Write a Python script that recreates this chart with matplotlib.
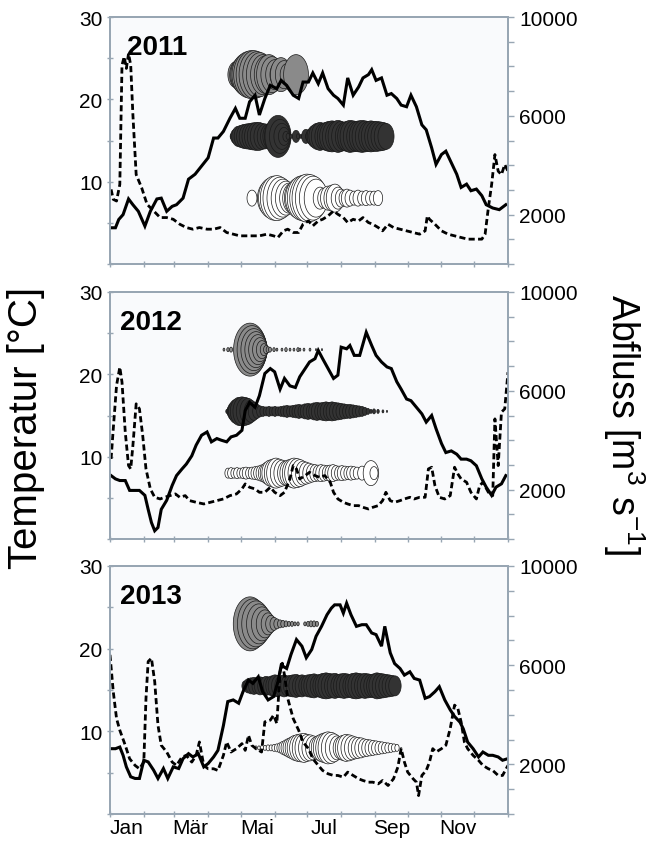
import numpy as np
import matplotlib
matplotlib.use("Agg")
import matplotlib.pyplot as plt
from matplotlib.path import Path
from matplotlib.ticker import FixedLocator, NullFormatter, FixedFormatter

plt.rcParams['font.family'] = ['Liberation Sans', 'DejaVu Sans']
plt.rcParams['mathtext.fontset'] = 'custom'
plt.rcParams['mathtext.rm'] = 'Liberation Sans'

# ---------------- data ----------------
years = ['2011', '2012', '2013']

# 2011
t11_day = [2,5,8,12,17,21,26,32,37,43,47,52,57,61,67,72,78,84,90,95,99,104,110,115,119,124,128,133,137,142,
           147,153,157,162,168,173,177,182,186,191,195,200,205,209,214,218,223,228,232,237,240,244,249,254,258,
           263,267,272,276,281,286,290,295,299,304,308,313,318,322,327,331,336,341,345,351,357,363]
t11_val = [4.4,4.4,5.4,6.0,7.9,7.2,6.4,4.6,6.4,7.9,8.0,6.4,7.0,7.2,8.0,10.3,10.9,11.9,12.9,15.3,
           15.3,16.1,17.7,18.9,17.7,17.7,19.7,20.5,18.1,20.1,21.7,21.3,22.3,21.7,20.5,20.1,22.1,22.1,23.2,21.9,
           23.2,21.3,20.5,20.1,19.3,22.6,20.5,21.5,22.6,23.0,23.6,22.3,22.6,20.5,20.7,20.1,19.3,19.1,20.5,19.1,
           16.9,16.3,14.1,12.1,13.3,13.7,12.3,10.9,9.3,9.7,8.9,9.1,8.3,7.2,6.8,6.6,7.2]
q11_day = [1,3,6,9,11,13,15,17,19,21,24,29,34,40,46,52,58,64,70,76,82,89,95,101,107,113,119,125,131,137,
           144,150,154,159,163,168,173,177,182,186,191,195,200,205,209,214,218,223,228,232,237,241,246,250,255,
           260,266,272,278,284,289,291,293,298,304,310,316,322,328,334,341,344,347,350,353,356,359,362,365]
q11_val = [3020,2617,2550,3220,8050,8390,7918,8520,8050,6040,3620,3090,2415,2150,1880,1880,1810,1610,1476,1409,
           1476,1409,1409,1476,1275,1208,1140,1140,1140,1140,1208,1140,1073,1342,1409,1275,1275,1610,1745,1543,
           1745,1810,1946,2150,2013,1880,1678,1810,1745,1880,1678,1610,1476,1342,1610,1476,1409,1342,1275,1208,
           1342,1946,1810,1610,1342,1208,1140,1073,1006,1006,1006,1208,2281,3220,4430,3758,3620,4026,3758]

# 2012
t12_day = [1,5,9,14,18,23,27,32,35,38,41,44,47,52,57,61,66,70,75,79,84,89,93,98,102,107,111,116,121,124,
           128,133,137,142,147,151,156,160,165,170,174,179,183,188,191,195,200,205,209,212,217,220,224,229,235,
           240,244,249,254,258,263,267,272,276,281,286,290,295,299,304,308,313,318,322,327,331,336,341,345,350,
           354,359,363]
t12_val = [7.7,7.3,7.1,7.1,5.9,5.9,5.9,5.3,3.6,2.0,1.0,1.4,3.6,4.7,6.5,7.7,8.5,9.1,10.1,11.4,
           12.6,13.0,11.8,12.2,12.0,11.8,12.4,12.6,13.2,15.6,16.6,16.0,17.4,20.1,20.7,20.3,18.2,19.5,18.6,18.4,
           19.7,20.7,21.5,21.9,22.9,21.9,20.7,19.5,19.9,23.3,23.1,23.5,22.3,22.3,25.1,23.5,22.3,21.5,20.9,
           20.7,19.1,18.2,17.0,16.8,16.0,15.2,14.2,15.0,13.4,11.6,10.5,10.7,10.3,9.7,9.7,9.5,8.9,7.3,6.3,
           5.3,6.3,6.7,7.7]
q12_day = [1,3,6,9,11,14,17,19,21,24,27,30,33,37,41,46,50,55,60,64,69,73,79,86,92,98,104,110,116,121,
           124,128,133,137,142,147,151,156,160,165,168,171,174,179,183,188,192,197,202,205,209,214,218,223,228,
           232,237,241,246,250,253,257,261,266,270,275,279,284,289,292,295,298,302,307,312,316,319,322,327,331,
           336,339,342,347,351,353,356,359,362,365]
q12_val = [3242,4458,6215,6958,6350,4323,2972,2837,3783,5472,5269,4188,2837,2027,1689,1621,1689,1756,1824,1689,
           1756,1554,1486,1419,1486,1554,1621,1756,1824,2027,2229,2094,2027,1891,1891,2094,1891,1756,1891,2432,
           2972,2837,2432,2567,2702,2567,2499,2567,2297,1891,1621,1486,1419,1351,1351,1283,1216,1283,1351,1554,
           1891,1554,1486,1554,1621,1689,1621,1689,1689,2837,2905,2162,1689,1621,1756,2905,2634,2432,2297,1891,
           1621,2162,2297,1891,1756,4863,2972,5134,5269,6755]

# 2013
t13_day = [1,5,9,12,15,19,23,27,31,35,40,44,49,53,58,63,67,72,76,81,86,90,95,99,104,108,113,118,122,127,
           131,136,140,145,150,154,157,162,166,171,176,180,185,189,194,199,203,206,211,214,217,221,226,231,235,
           240,244,249,252,257,261,266,270,275,279,284,289,293,298,302,307,312,316,321,324,328,333,338,342,347,
           351,356,360,365]
t13_val = [7.9,7.9,8.1,7.1,5.7,4.5,4.3,4.3,6.5,6.3,5.3,4.3,5.5,4.3,5.7,5.5,6.7,7.3,6.9,7.3,
           5.7,6.1,6.9,7.7,10.7,13.6,13.8,13.4,14.8,16.2,15.8,16.6,14.8,13.8,14.2,16.0,18.0,17.6,19.3,21.1,
           20.3,18.9,19.9,21.5,22.7,24.1,24.9,25.3,25.3,24.3,25.5,24.1,22.7,22.9,22.9,21.9,21.7,20.3,22.7,19.5,
           18.2,17.6,16.8,17.2,16.4,16.2,14.0,14.2,14.8,15.4,13.8,12.6,11.8,11.1,10.3,8.7,7.9,6.9,7.5,7.1,
           7.1,6.9,6.5,6.7]
q13_day = [0,3,6,9,14,18,23,27,31,33,35,38,41,44,47,52,57,61,66,70,75,79,82,86,90,95,99,104,107,111,
           116,121,124,127,130,134,139,142,147,150,153,156,158,160,163,168,173,177,182,186,191,195,200,205,209,
           214,218,223,228,232,237,241,246,250,255,260,264,267,270,273,278,281,283,286,290,293,296,299,304,308,
           312,316,319,322,325,328,333,338,342,347,351,356,360,365]
q13_val = [6417,4931,3850,3378,2770,2229,1959,1824,2094,4661,6147,6282,5336,3580,2770,2499,2094,1959,2297,2364,
           2094,2364,2905,1959,1824,1824,1756,2364,2905,2499,2634,2837,2567,3175,2770,2634,2499,3715,3783,3985,
           3648,5742,6080,5607,4661,3850,3378,2905,2634,2229,1959,1756,1621,1554,1554,1486,1689,1554,1419,1351,
           1283,1283,1216,1351,1148,1419,1891,2634,2094,1689,1419,1283,743,1554,1756,2094,2634,2499,2634,2770,
           3445,4391,4256,3715,2905,2634,2364,2162,1959,1824,1756,1554,1554,1959]

# bubble rows (day of year, bubble size)
g11_day = [115.5,118.3,121.0,123.8,126.5,129.3,132.0,134.8,137.6,140.3,143.1,145.8,148.6,151.3,154.1,156.8,
           159.6,162.3,170.6]
g11_size = [26,30,36,42,46,48,48,46,44,40,38,40,36,30,26,34,28,22,40]
d11_day = [111.9,114.6,117.4,120.1,122.9,125.6,128.4,131.1,133.9,136.6,139.4,142.1,144.9,147.6,151.3,154.1,
           155.9,157.7,159.6,161.4,163.2,166.0,168.7,170.6,172.4,175.1,177.9,179.7,181.6,184.3,187.1,189.8,
           192.6,195.3,198.1,200.8,203.6,206.3,209.1,211.8,214.6,217.3,220.1,222.8,225.6,228.3,231.1,233.8,
           236.6,239.3,242.1,244.8,247.6,250.3,253.1]
d11_size = [6,14,20,22,24,25,26,27,28,28,26,25,24,26,34,42,34,26,18,10,6,4,5,12,5,4,6,14,8,16,22,26,28,26,
            28,30,31,30,32,30,28,30,32,31,30,31,32,31,30,31,30,30,29,28,26]
w11_day = [130.2,139.4,142.1,144.9,147.6,150.4,153.1,155.9,158.6,161.4,164.1,166.9,169.6,172.4,175.1,177.9,
           180.6,183.4,186.2,188.9,192.6,196.2,199.9,203.6,206.3,209.1,211.8,214.6,217.3,220.1,223.7,227.4,
           231.1,234.8,238.4,242.1,245.8]
w11_size = [16,14,18,34,40,44,45,42,38,34,30,30,34,40,44,46,48,47,44,38,22,20,24,26,28,22,18,16,18,16,14,16,
            14,15,14,14,15]

g12_day = [104.5,108.2,111.0,128.4,130.2,132.0,133.9,135.7,137.6,139.4,141.2,143.1,144.9,146.7,150.4,153.1,
           157.7,161.4,165.1,168.7,172.4,174.2,177.9,183.4,188.9,194.4]
g12_size = [3,4,5,53,48,42,36,30,24,18,12,8,6,5,4,3,3,4,3,3,4,3,3,3,2,2]
d12_day = [107.3,110.0,112.8,115.5,118.3,121.0,123.8,126.5,129.3,132.0,134.8,137.6,140.3,143.1,145.8,148.6,
           151.3,154.1,156.8,159.6,162.3,165.1,167.8,170.6,173.3,176.1,178.8,181.6,184.3,187.1,189.8,192.6,
           195.3,198.1,200.8,203.6,206.3,209.1,211.8,214.6,217.3,220.1,222.8,225.6,228.3,231.1,233.8,236.6,
           239.3,242.1,245.8,250.3,254.0]
d12_size = [4,10,18,24,28,29,28,26,22,18,14,11,10,9,10,9,10,9,10,11,12,11,12,13,14,13,15,16,15,17,18,17,
            18,19,18,19,18,17,16,15,14,14,13,12,11,10,8,6,4,5,4,3,2]
w12_day = [108.2,111.0,113.7,116.5,119.2,122.0,124.7,127.5,130.2,133.0,135.7,138.5,141.2,144.0,146.7,149.5,
           152.2,155.0,157.7,160.5,163.2,166.0,168.7,171.5,174.2,177.0,179.7,182.5,185.2,188.0,190.7,193.5,
           196.2,199.0,201.7,204.5,207.2,210.0,212.7,215.5,218.2,221.0,223.7,226.5,231.1,239.3,242.1]
w12_size = [10,11,10,11,10,11,12,11,12,13,14,16,18,22,26,28,30,28,26,24,26,28,30,29,27,24,22,20,18,17,16,17,
            16,15,16,17,15,14,15,14,13,14,13,12,14,25,13]

g13_day = [128.4,131.1,133.9,136.6,139.4,142.1,144.9,147.6,150.4,153.1,155.9,158.6,161.4,164.1,166.9,169.6,
           172.4,178.8,181.6,184.3,187.1,189.8]
g13_size = [54,50,46,40,34,28,22,17,13,10,8,7,6,5,5,4,4,4,5,6,6,5]
d13_day = [123.8,126.5,129.3,132.0,134.8,137.6,140.3,143.1,145.8,148.6,151.3,154.1,156.8,159.6,162.3,165.1,
           167.8,170.6,173.3,176.1,178.8,181.6,184.3,187.1,189.8,192.6,195.3,198.1,200.8,203.6,206.3,209.1,
           211.8,214.6,217.3,220.1,222.8,225.6,228.3,231.1,233.8,236.6,239.3,242.1,244.8,247.6,250.3,253.1,
           255.8,258.6,261.3]
d13_size = [10,14,16,17,16,18,17,19,18,20,22,21,20,22,20,21,22,23,21,22,20,22,23,24,22,23,25,26,25,24,
            25,23,24,25,24,23,25,26,25,24,25,24,23,24,26,25,24,23,22,21,20]
w13_day = [133.9,136.6,139.4,142.1,144.9,147.6,150.4,153.1,155.9,158.6,161.4,164.1,166.9,169.6,172.4,175.1,
           177.9,180.6,183.4,186.2,188.9,191.7,194.4,197.2,199.9,202.7,205.4,208.2,210.9,213.7,216.4,219.2,
           221.9,224.7,227.4,230.2,232.9,235.7,238.4,241.2,243.9,246.7,249.4,252.2,254.9,257.7,260.4,263.2]
w13_size = [4,4,5,5,6,6,7,8,10,13,16,19,22,25,27,28,29,27,26,24,22,25,28,30,32,31,28,24,22,25,27,26,24,22,
            21,20,18,17,16,15,14,13,12,11,10,9,8,7]

row_level = [23.0, 15.5, 8.0]          # temperature level of each bubble row
row_color = ['#8a8a8a', '#333333', '#ffffff']

month_edges = [0,31,59,90,120,151,181,212,243,273,304,334,365]
label_days = [15, 74, 135, 196, 258, 319]
label_names = ['Jan', 'Mär', 'Mai', 'Jul', 'Sep', 'Nov']

panels = [
    (t11_day, t11_val, q11_day, q11_val, [(g11_day, g11_size), (d11_day, d11_size), (w11_day, w11_size)], 16, 26.4),
    (t12_day, t12_val, q12_day, q12_val, [(g12_day, g12_size), (d12_day, d12_size), (w12_day, w12_size)], 9, 26.4),
    (t13_day, t13_val, q13_day, q13_val, [(g13_day, g13_size), (d13_day, d13_size), (w13_day, w13_size)], 9, 26.4),
]

# ---------------- figure ----------------
fig = plt.figure(figsize=(6.46, 8.45), dpi=100)
th = np.linspace(0, 2 * np.pi, 80)
ell = Path(np.column_stack([0.62 * np.cos(th), np.sin(th)]))

bottoms = [1 - 265 / 845, 1 - 540 / 845, 1 - 815 / 845]
heights = [247 / 845, 247 / 845, 248 / 845]
spine_c = '#98a6b3'

for i, (td, tv, qd, qv, rows, yx, yy) in enumerate(panels):
    ax = fig.add_axes([110 / 646, bottoms[i], 398 / 646, heights[i]])
    ax.set_facecolor('#f9fafc')
    ax2 = ax.twinx()

    for (bd, bs), lev, col in zip(rows, row_level, row_color):
        sz = (np.array(bs, dtype=float) * 0.72) ** 2
        ax.scatter(bd, [lev] * len(bd), s=sz, marker=ell, facecolor=col,
                   edgecolor='#1a1a1a', linewidth=0.5, zorder=2)

    ax.plot(td, tv, color='black', lw=2.2, zorder=3, solid_joinstyle='miter')
    ax2.plot(qd, qv, color='black', lw=2.0, dashes=(2.2, 1.2))

    ax.set_xlim(0, 365)
    ax.set_ylim(0, 30)
    ax2.set_ylim(0, 10000)

    ax.yaxis.set_major_locator(FixedLocator([10, 20, 30]))
    ax.yaxis.set_minor_locator(FixedLocator([0, 5, 15, 25]))
    ax2.yaxis.set_major_locator(FixedLocator([2000, 6000, 10000]))
    ax2.yaxis.set_minor_locator(FixedLocator([0, 1000, 3000, 4000, 5000, 7000, 8000, 9000]))

    ax.xaxis.set_major_locator(FixedLocator(month_edges))
    ax.xaxis.set_major_formatter(NullFormatter())
    if i == 2:
        ax.xaxis.set_minor_locator(FixedLocator(label_days))
        ax.xaxis.set_minor_formatter(FixedFormatter(label_names))
        ax.tick_params(axis='x', which='minor', length=0, labelsize=15, pad=3)
    else:
        ax.xaxis.set_minor_locator(FixedLocator([]))

    ax.tick_params(axis='x', which='major', direction='inout', length=5, width=1, color=spine_c)
    ax.tick_params(axis='y', which='both', direction='inout', length=5, width=1, color=spine_c,
                   labelsize=15, pad=3)
    ax2.tick_params(axis='y', which='both', direction='out', length=4, width=1, color=spine_c,
                    labelsize=15, pad=4)

    for a in (ax, ax2):
        for sp in a.spines.values():
            sp.set_color(spine_c)
            sp.set_linewidth(1.3)

    ax.text(yx, yy, years[i], fontsize=20, fontweight='bold', ha='left', va='center', zorder=5)

fig.text(26 / 646, 1 - 428 / 845, 'Temperatur [°C]', rotation=90, fontsize=29,
         ha='center', va='center')
fig.text(624 / 646, 1 - 425 / 845, r'Abfluss [m$^{\mathrm{3}}$ s$^{\mathrm{-1}}$]', rotation=270,
         fontsize=27, ha='center', va='center')

fig.savefig('out.png', dpi=100)
